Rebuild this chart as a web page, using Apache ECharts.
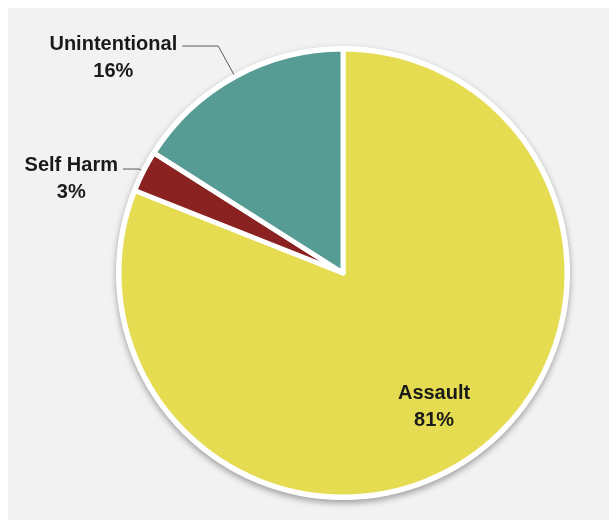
<!DOCTYPE html>
<html>
<head>
<meta charset="utf-8">
<script src="https://cdn.jsdelivr.net/npm/echarts@6/dist/echarts.min.js"></script>
<style>
html,body{margin:0;padding:0;background:#fff;}
#chart{width:610px;height:520px;}
</style>
</head>
<body>
<div id="chart"></div>
<script>
const categories = ['Assault', 'Self Harm', 'Unintentional'];
const values = [81, 3, 16];
const colors = ['#E6DC52', '#8A2222', '#579C94'];

const font = '"Liberation Sans", Arial, sans-serif';
const chart = echarts.init(document.getElementById('chart'));

const pieData = categories.map((c, i) => ({
  name: c,
  value: values[i],
  itemStyle: { color: colors[i] }
}));

const textStyle = {
  color: '#1a1a1a',
  fontFamily: font,
  fontWeight: 'bold',
  fontSize: 20,
  lineHeight: 27,
  align: 'center'
};

const labelOuter = Object.assign({
  show: true,
  position: 'outside',
  formatter: '{t|{b}}\n{t|{d}%}',
  rich: { t: Object.assign({}, textStyle) }
}, textStyle);

chart.setOption({
  backgroundColor: '#ffffff',
  animation: false,
  graphic: [{
    type: 'rect',
    silent: true,
    z: -10,
    shape: { x: 8, y: 8, width: 601, height: 520 },
    style: { fill: '#F2F2F2' }
  }],
  series: [
    {
      type: 'pie',
      silent: true,
      center: [343, 273],
      radius: [0, 227],
      startAngle: 90,
      label: { show: false },
      labelLine: { show: false },
      itemStyle: {
        color: '#ffffff',
        shadowBlur: 6,
        shadowOffsetY: 3,
        shadowColor: 'rgba(0,0,0,0.35)'
      },
      data: [{ name: 'rim', value: 1 }],
      z: 1
    },
    {
      type: 'pie',
      center: [343, 273],
      radius: [0, 224],
      startAngle: 90,
      clockwise: true,
      avoidLabelOverlap: false,
      itemStyle: { borderColor: '#ffffff', borderWidth: 5 },
      label: labelOuter,
      labelLine: {
        show: true,
        lineStyle: { color: '#595959', width: 1 }
      },
      data: pieData.map((d, i) => {
        if (i === 0) {
          return Object.assign({}, d, { label: { show: false }, labelLine: { show: false } });
        }
        if (d.name === 'Unintentional') {
          return Object.assign({}, d, {
            label: { padding: [24, 0, 0, 0] },
            labelLine: { length: 35, length2: 36 }
          });
        }
        return Object.assign({}, d, {
          label: { padding: [20, 0, 0, 0] },
          labelLine: { length: 5, length2: 16 }
        });
      }),
      z: 2
    },
    {
      type: 'pie',
      silent: true,
      center: [343, 273],
      radius: [94, 224],
      startAngle: 90,
      clockwise: true,
      itemStyle: { color: 'rgba(0,0,0,0)' },
      labelLine: { show: false },
      label: { show: false },
      data: pieData.map((d, i) => ({
        name: d.name,
        value: d.value,
        itemStyle: { color: 'rgba(0,0,0,0)' },
        label: i === 0 ? Object.assign({
          show: true,
          position: 'inside',
          formatter: '{b}\n{d}%'
        }, textStyle) : { show: false }
      })),
      z: 3
    }
  ]
});
</script>
</body>
</html>
